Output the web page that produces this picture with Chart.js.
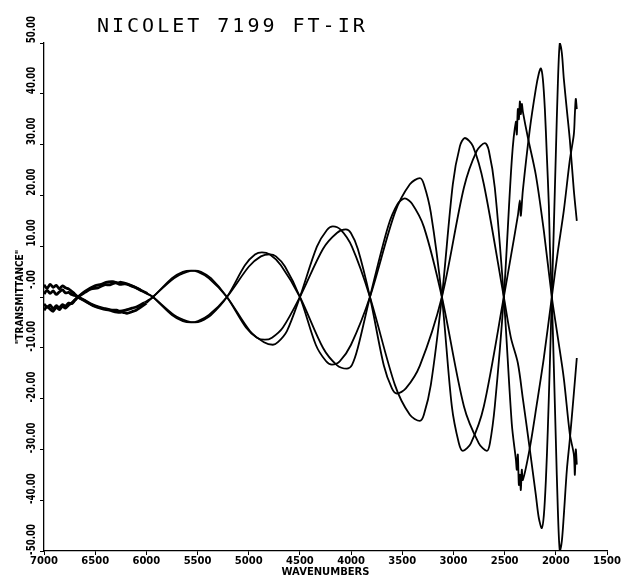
<!DOCTYPE html>
<html><head><meta charset="utf-8">
<script src="https://cdn.jsdelivr.net/npm/chart.js@4"></script>
<style>html,body{margin:0;padding:0;background:#fff}#wrap{width:622px;height:576px}</style>
</head><body><div id="wrap"><canvas id="c" width="622" height="576"></canvas></div>
<script>
const chartTitle = 'NICOLET 7199 FT-IR';
const xAxisTitle = 'WAVENUMBERS';
const yAxisTitle = '"TRANSMITTANCE"';
const xTickValues = [7000,6500,6000,5500,5000,4500,4000,3500,3000,2500,2000,1500];
const yTickValues = [-50,-40,-30,-20,-10,0,10,20,30,40,50];
const yTickLabels = ['-50.00','-40.00','-30.00','-20.00','-10.00','-.00','10.00','20.00','30.00','40.00','50.00'];

const s1Wn = [7000,6970,6940,6910,6880,6850,6820,6790,6760,6730,6700,6668, 6600,6540,6473,6410,6355,6300,6260,6209,6160,6111,6050,5990,5936, 5730,5603,5525,5467,5369,5213, 5037,4939,4871,4793,4686,4500, 4275,4139,4041,3992,3934,3816, 3640,3543,3475,3406,3289,3113, 2898,2752,2674,2644,2596,2508, 2430,2390,2381,2371,2361,2351,2342,2332,2322,2273,2195,2117,2039, 1980,1922,1863,1824,1814,1805,1795];
const s1T  = [-1.4,-2.0,-1.6,-2.3,-1.7,-2.1,-1.5,-1.8,-1.2,-1.3,-0.7,0, 0.9,1.6,1.8,2.4,2.4,2.8,2.5,2.6,2.3,1.9,1.3,0.6,0, -3.55,-4.75,-5.0,-4.75,-3.55,0, 6.25,8.35,8.8,8.35,6.25,0, -10.0,-13.4,-14.1,-13.4,-10.0,0, 13.8,18.4,19.4,18.4,13.8,0, -21.5,-28.8,-30.3,-28.8,-21.5,0, 27,34.5,32,37,35,38.5,36,38,36.5,31.4,24,13,0, -8,-16,-27,-31,-35,-30,-33];

const s2Wn = [7000,6970,6940,6910,6880,6850,6820,6790,6760,6730,6700,6668, 6600,6520,6434,6360,6287,6230,6189,6141,6100,6062,6000,5936, 5730,5603,5525,5467,5369,5213, 5027,4920,4842,4773,4666,4500, 4275,4139,4051,4002,3934,3816, 3680,3601,3553,3465,3328,3113, 2898,2771,2693,2654,2596,2508, 2430,2390,2381,2371,2361,2351,2342,2332,2322,2254,2185,2117,2039, 1980,1922,1863,1824,1814,1805,1795];
const s2T  = [2.4,1.7,2.5,1.9,2.3,1.6,2.2,1.8,1.6,1.1,0.6,0, -0.8,-1.7,-2.3,-2.6,-3.0,-3.0,-3.2,-2.9,-2.6,-2.1,-1.2,0, 3.7,4.95,5.2,4.95,3.7,0, -6.0,-8.0,-8.4,-8.0,-6.0,0, 9.45,12.6,13.3,12.6,9.45,0, -13.5,-18.0,-19.0,-18.0,-13.5,0, 21.5,28.8,30.3,28.8,21.5,0, -25,-32,-34,-31,-37,-35,-38,-34,-36,-29.7,-21,-12,0, 9,17,27,32,36,39,37];

const s3Wn = [7000,6970,6940,6910,6880,6850,6820,6790,6760,6730,6700,6668, 6600,6530,6463,6400,6336,6290,6258,6189,6140,6092,6020,5936, 5750,5643,5564,5496,5389,5213, 4988,4851,4764,4715,4627,4500, 4334,4236,4178,4100,3992,3816, 3572,3426,3328,3289,3221,3113, 3006,2937,2889,2810,2703,2508, 2439,2371,2322,2254,2195,2166,2137,2117,2097,2078,2058,2039, 2019,2000,1980,1961,1941,1922,1892,1863,1824,1795];
const s3T  = [0.6,1.3,0.7,1.2,0.5,1.0,1.4,0.8,0.9,0.5,0.3,0, -0.7,-1.5,-2.0,-2.3,-2.6,-2.6,-2.8,-2.5,-2.2,-1.9,-1.1,0, 3.7,4.95,5.2,4.95,3.7,0, -6.7,-8.9,-9.4,-8.9,-6.7,0, 9.9,13.2,13.9,13.2,9.9,0, -17.3,-23.2,-24.4,-23.2,-17.3,0, 22.2,29.7,31.3,29.7,22.2,0, -8,-13,-20,-30,-39,-43.5,-45.5,-43,-36,-26,-13,0, 14,28,42,50,48,43,36.8,30.9,21,15];

const s4Wn = [7000,6970,6940,6910,6880,6850,6820,6790,6760,6730,6700,6668, 6600,6502,6440,6395,6326,6280,6248,6190,6131,6060,5990,5936, 5750,5643,5564,5496,5389,5213, 4998,4881,4793,4734,4646,4500, 4344,4246,4187,4109,4002,3816, 3572,3426,3328,3289,3221,3113, 3016,2947,2908,2830,2703,2508, 2439,2371,2351,2342,2322,2254,2195,2166,2146,2127,2107,2088,2068,2058,2039, 2019,2000,1980,1961,1941,1922,1892,1863,1824,1795];
const s4T  = [-2.6,-1.9,-2.4,-2.8,-2.0,-2.5,-1.8,-2.2,-1.6,-1.2,-0.6,0, 1.1,2.2,2.5,2.9,3.0,2.8,2.9,2.6,2.1,1.4,0.7,0, -3.55,-4.75,-5.0,-4.75,-3.55,0, 6.0,8.0,8.4,8.0,6.0,0, -9.45,-12.6,-13.3,-12.6,-9.45,0, 16.6,22.2,23.4,22.2,16.6,0, -21.5,-28.8,-30.3,-28.8,-21.5,0, 8,16,19,16,21,33,41,44,45,43,37,28,18,10,0, -14,-28,-42,-50,-48,-43,-34,-28,-19,-12];

const seriesList = [[s1Wn,s1T],[s2Wn,s2T],[s3Wn,s3T],[s4Wn,s4T]];

const decor = {
  id: 'decor',
  afterDraw(chart) {
    const ctx = chart.ctx, ys = chart.scales.y;
    ctx.save();
    ctx.fillStyle = '#000';
    ctx.font = 'bold 12px "DejaVu Sans"';
    ctx.textAlign = 'right';
    ctx.textBaseline = 'middle';
    yTickValues.forEach((v, i) => {
      const py = ys.getPixelForValue(v);
      ctx.save();
      ctx.translate(32, py - 27);
      ctx.rotate(-Math.PI / 2);
      ctx.scale(0.72, 1);
      ctx.fillText(yTickLabels[i], 0, 0);
      ctx.restore();
    });
    ctx.font = '20px "DejaVu Sans Mono"';
    try { ctx.letterSpacing = '3px'; } catch (e) {}
    ctx.textAlign = 'left';
    ctx.textBaseline = 'alphabetic';
    ctx.fillText(chartTitle, 97, 32);
    ctx.restore();
  }
};

new Chart(document.getElementById('c'), {
  type: 'line',
  data: {
    datasets: seriesList.map(([wn, t]) => ({
      data: wn.map((x, i) => ({x: x, y: t[i]})),
      borderColor: '#000',
      borderWidth: 1.8,
      pointRadius: 0,
      fill: false,
      tension: 0.3,
      segment: {borderWidth: c => (c.p0.parsed.x > 6050 ? 2.8 : 1.8)}
    }))
  },
  options: {
    responsive: false,
    animation: false,
    devicePixelRatio: 1,
    layout: {padding: {left: 0, right: 15, top: 43, bottom: 0}},
    plugins: {legend: {display: false}, tooltip: {enabled: false}, title: {display: false}},
    scales: {
      x: {
        type: 'linear', reverse: true, min: 1500, max: 7000,
        afterBuildTicks: s => { s.ticks = xTickValues.map(v => ({value: v})); },
        afterFit: s => { s.height = 25; },
        ticks: {callback: v => String(v), font: {family: 'DejaVu Sans', weight: 'bold', size: 10}, color: '#000', padding: 0, maxRotation: 0, minRotation: 0, autoSkip: false},
        grid: {drawOnChartArea: false, drawTicks: true, tickLength: 4, color: '#000', lineWidth: 1},
        border: {display: true, color: '#000', width: 1.3},
        title: {display: true, text: xAxisTitle, color: '#000', font: {family: 'DejaVu Sans', weight: 'bold', size: 10, lineHeight: 0.8}, padding: {top: 0, bottom: 0}}
      },
      y: {
        type: 'linear', min: -50, max: 50,
        afterBuildTicks: s => { s.ticks = yTickValues.map(v => ({value: v})); },
        afterFit: s => { s.width = 44; },
        ticks: {display: false},
        grid: {drawOnChartArea: false, drawTicks: true, tickLength: 4, color: '#000', lineWidth: 1},
        border: {display: true, color: '#000', width: 1.3},
        title: {display: true, text: yAxisTitle, color: '#000', font: {family: "'DejaVu Sans Condensed','Liberation Sans Narrow','Liberation Sans',sans-serif", weight: 'bold', size: 10}, padding: {top: 14, bottom: 0}}
      }
    }
  },
  plugins: [decor]
});
</script>
</body></html>
